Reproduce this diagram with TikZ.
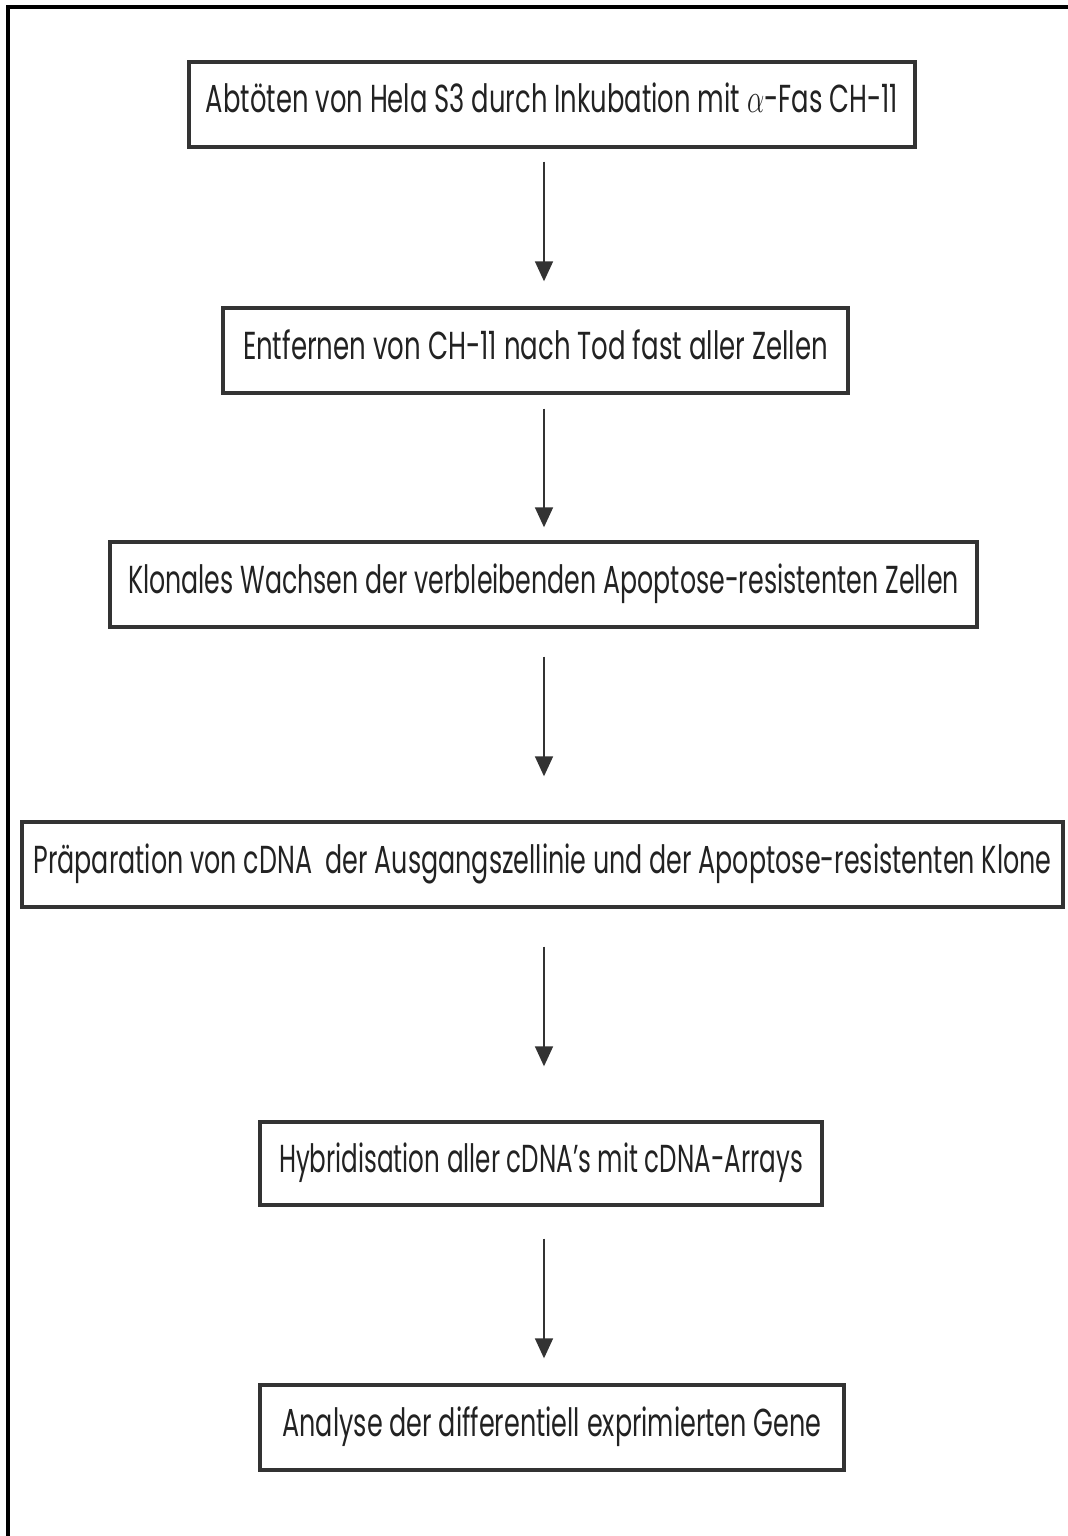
\documentclass[tikz,border=0pt]{standalone}
\usepackage{fontspec}
\setmainfont{Poppins}
\usepackage{graphicx}
\usetikzlibrary{arrows.meta}
\definecolor{boxgray}{HTML}{333333}
\definecolor{txtgray}{HTML}{222222}
\newcommand{\fitw}[2]{\resizebox{#1}{\height}{#2}}
\tikzset{
  stepbox/.style={draw=boxgray, line width=1.7pt, rectangle, inner sep=0pt,
    minimum height=42.5pt, text=txtgray, text height=12.5pt, text depth=4pt,
    font=\fontsize{19.5}{22}\selectfont},
  flowarrow/.style={draw=boxgray, line width=0.85pt, -{Triangle[length=10pt,width=9pt]}},
  frameline/.style={draw=black, line width=1.8pt}
}
\begin{document}
\begin{tikzpicture}[x=0.5pt,y=-0.5pt]
\useasboundingbox (0,0) rectangle (1067,1536);
\draw[frameline] (8,1540) -- (8,7) -- (1070,7);

\node[stepbox, minimum width=363pt] (b1) at (552,104.5)
  {\fitw{346pt}{Abtöten von Hela S3 durch Inkubation mit $\alpha$-Fas CH-11}};
\node[stepbox, minimum width=312.5pt] (b2) at (535.5,350.5)
  {\fitw{292.5pt}{Entfernen von CH-11 nach Tod fast aller Zellen}};
\node[stepbox, minimum width=433.5pt] (b3) at (543.5,584.5)
  {\fitw{415.5pt}{Klonales Wachsen der verbleibenden Apoptose-resistenten Zellen}};
\node[stepbox, minimum width=520.5pt] (b4) at (542.5,864.5)
  {\fitw{509pt}{Präparation von cDNA\ \ der Ausgangszellinie und der Apoptose-resistenten Klone}};
\node[stepbox, minimum width=281pt, minimum height=41.5pt] (b5) at (541,1163.5)
  {\fitw{262pt}{Hybridisation aller cDNA’s mit cDNA-Arrays}};
\node[stepbox, minimum width=292pt] (b6) at (552,1427.5)
  {\fitw{269.5pt}{Analyse der differentiell exprimierten Gene}};

\coordinate (ax) at (544,0);
\draw[flowarrow, shorten <=6.5pt, shorten >=12.5pt] (b1.south -| ax) -- (b2.north -| ax);
\draw[flowarrow, shorten <=7pt, shorten >=6.5pt] (b2.south -| ax) -- (b3.north -| ax);
\draw[flowarrow, shorten <=14pt, shorten >=22pt] (b3.south -| ax) -- (b4.north -| ax);
\draw[flowarrow, shorten <=19pt, shorten >=27pt] (b4.south -| ax) -- (b5.north -| ax);
\draw[flowarrow, shorten <=16pt, shorten >=12.5pt] (b5.south -| ax) -- (b6.north -| ax);
\end{tikzpicture}
\end{document}
